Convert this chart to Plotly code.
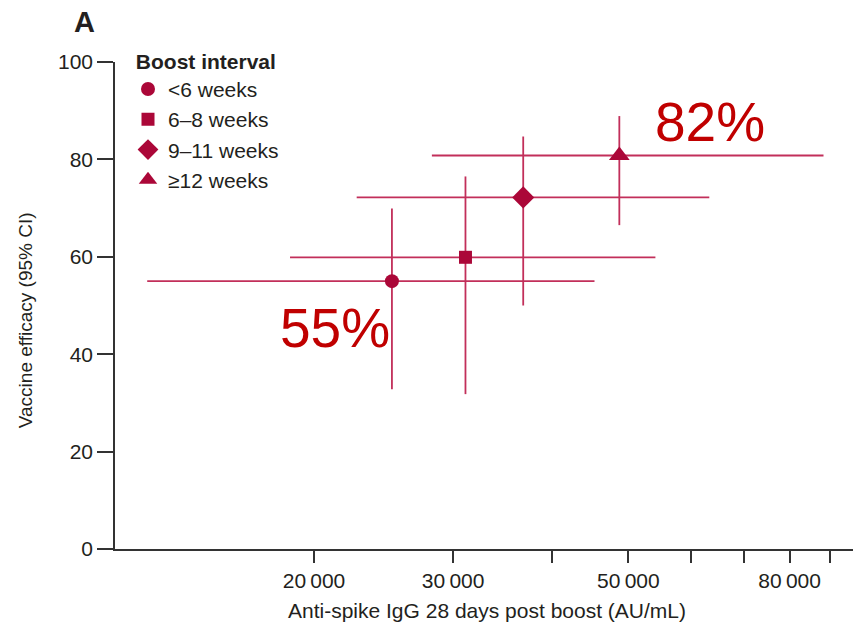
import numpy as np
import plotly.graph_objects as go

# ---- data ----
intervals = ["<6 weeks", "6\u20138 weeks", "9\u201311 weeks", "\u226512 weeks"]
symbols = ["circle", "square", "diamond", "triangle-up"]
igg = [25100, 31100, 36800, 48700]
igg_lo = [12300, 18650, 22650, 28200]
igg_hi = [45300, 54100, 63300, 88300]
ve = [55.0, 59.9, 72.2, 80.8]
ve_lo = [32.8, 31.8, 50.0, 66.5]
ve_hi = [69.9, 76.5, 84.7, 88.9]
xtick_vals = [20000, 30000, 40000, 50000, 60000, 70000, 80000, 90000]
xtick_text = ["20\u2009000", "30\u2009000", "", "50\u2009000", "", "", "80\u2009000", ""]
ytick_vals = [0, 20, 40, 60, 80, 100]

MARK = "#ab0738"
LINE = "#c22f5a"
TXT = "#231f20"
FONT = "Liberation Sans, Arial, sans-serif"

W, H = 853, 625
L, R, T, B = 115, 0, 61.5, 76
pw = W - L - R
ph = H - T - B

def px(xp):
    return (xp - L) / pw

def py(yp):
    return (H - B - yp) / ph

fig = go.Figure()
sizes = [14, 13, 17, 18]
for i in range(len(intervals)):
    fig.add_trace(go.Scatter(
        x=[igg[i]], y=[ve[i]], mode="markers", name=intervals[i],
        legendgroup=intervals[i],
        marker=dict(symbol=symbols[i], size=sizes[i], color=MARK, line=dict(width=0)),
        error_x=dict(type="data", symmetric=False,
                     array=[igg_hi[i] - igg[i]], arrayminus=[igg[i] - igg_lo[i]],
                     color=LINE, thickness=1.8, width=0),
        error_y=dict(type="data", symmetric=False,
                     array=[ve_hi[i] - ve[i]], arrayminus=[ve[i] - ve_lo[i]],
                     color=LINE, thickness=1.8, width=0),
    ))

xr = [np.log10(20000) - (314 - L) / 790.0, np.log10(20000) + (W - R - 314) / 790.0]

fig.update_layout(
    width=W, height=H,
    margin=dict(l=L, r=R, t=T, b=B, pad=0),
    paper_bgcolor="white", plot_bgcolor="white",
    font=dict(family=FONT, color=TXT, size=21),
    showlegend=True,
    legend=dict(
        x=px(128), y=py(41), xanchor="left", yanchor="top",
        bgcolor="rgba(0,0,0,0)", borderwidth=0,
        font=dict(size=21, color=TXT, family=FONT),
        title=dict(text="<b>\u00a0Boost interval</b>", font=dict(size=21, color=TXT, family=FONT)),
        tracegroupgap=0,
    ),
    xaxis=dict(
        type="log", range=xr, showgrid=False, zeroline=False,
        showline=True, linecolor="#333", linewidth=1.5,
        ticks="outside", ticklen=12, tickwidth=1.5, tickcolor="#333",
        tickvals=xtick_vals, ticktext=xtick_text,
        tickfont=dict(size=21, color=TXT, family=FONT),
    ),
    yaxis=dict(
        range=[0, 100], showgrid=False, zeroline=False,
        showline=True, linecolor="#333", linewidth=1.5,
        ticks="outside", ticklen=16, tickwidth=1.5, tickcolor="#333",
        tickvals=ytick_vals,
        tickfont=dict(size=21, color=TXT, family=FONT),
    ),
    annotations=[
        dict(text="Anti-spike IgG 28 days post boost (AU/mL)", xref="paper", yref="paper",
             x=px(487), y=py(611), xanchor="center", yanchor="middle", showarrow=False,
             font=dict(size=21, color=TXT, family=FONT)),
        dict(text="Vaccine efficacy (95% CI)", xref="paper", yref="paper", textangle=-90,
             x=px(25), y=py(320), xanchor="center", yanchor="middle", showarrow=False,
             font=dict(size=19, color=TXT, family=FONT)),
        dict(text="<b>A</b>", xref="paper", yref="paper",
             x=px(84), y=py(21), xanchor="center", yanchor="middle", showarrow=False,
             font=dict(size=29, color=TXT, family=FONT)),
        dict(text="82%", xref="paper", yref="paper",
             x=px(710), y=py(122), xanchor="center", yanchor="middle", showarrow=False,
             font=dict(size=55, color="#c00000", family=FONT)),
        dict(text="55%", xref="paper", yref="paper",
             x=px(335), y=py(327.5), xanchor="center", yanchor="middle", showarrow=False,
             font=dict(size=55, color="#c00000", family=FONT)),
    ],
)

fig.write_html("out.html", config={"displayModeBar": False},
               post_script="document.body.style.margin='0';document.body.style.padding='0';document.body.style.overflow='hidden';")
